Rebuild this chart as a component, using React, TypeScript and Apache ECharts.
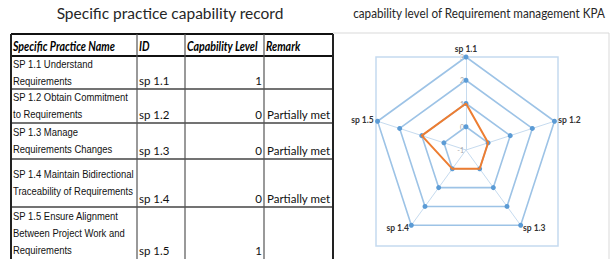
import React, { useEffect, useRef } from "react";
import * as echarts from "echarts";

const tableTitle = "Specific practice capability record";
const chartTitle = "capability level of Requirement management KPA";
const columnHeaders = ["Specific Practice Name", "ID", "Capability Level", "Remark"];
const practiceNames = [
  "SP 1.1 Understand\nRequirements",
  "SP 1.2 Obtain Commitment\nto Requirements",
  "SP 1.3 Manage\nRequirements Changes",
  "SP 1.4 Maintain Bidirectional\nTraceability of Requirements",
  "SP 1.5 Ensure Alignment\nBetween Project Work and\nRequirements",
];
const practiceIds = ["sp 1.1", "sp 1.2", "sp 1.3", "sp 1.4", "sp 1.5"];
const capabilityLevels = [1, 0, 0, 0, 1];
const remarks = ["", "Partially met", "Partially met", "Partially met", ""];
const axisMin = -1;
const axisMax = 3;
const gridRings = [
  [0, 0, 0, 0, 0],
  [1, 1, 1, 1, 1],
  [2, 2, 2, 2, 2],
  [3, 3, 3, 3, 3],
];

// layout
const COL_X = [11, 137, 185, 264, 333];
const ROW_Y = [34, 56, 89, 123, 159, 207, 262];
// ECharts lays radar axes counter-clockwise; reorder so sp 1.2 sits on the right
const RADAR_ORDER = [0, 4, 3, 2, 1];

export default function App() {
  const ref = useRef<HTMLDivElement>(null);
  useEffect(() => {
    if (!ref.current) return;
    const chart = echarts.init(ref.current, undefined, { renderer: "svg" });

    const graphics: any[] = [];
    // titles
    graphics.push({
      type: "text", x: 170, y: 13,
      style: { text: tableTitle, font: "15.5px Lato", fill: "#262626", textAlign: "center", textVerticalAlign: "middle" },
    });
    graphics.push({
      type: "text", x: 479, y: 13, scaleX: 0.9,
      style: { text: chartTitle, font: "13px Lato", fill: "#262626", textAlign: "center", textVerticalAlign: "middle" },
    });
    // chart area frame and plot area
    graphics.push({
      type: "rect", z: 0,
      shape: { x: 333, y: 33, width: 276, height: 280 },
      style: { fill: "none", stroke: "#d9d9d9", lineWidth: 1 },
    });
    graphics.push({
      type: "rect", z: 0,
      shape: { x: 376, y: 57, width: 182, height: 189 },
      style: { fill: "none", stroke: "#c5daf0", lineWidth: 1.5 },
    });
    // table grid
    ROW_Y.forEach((y, i) => {
      graphics.push({
        type: "line",
        shape: { x1: COL_X[0], y1: y, x2: COL_X[COL_X.length - 1], y2: y },
        style: { stroke: i <= 1 ? "#111" : "#444", lineWidth: i <= 1 ? 2 : 1.5 },
      });
    });
    COL_X.forEach((x, i) => {
      graphics.push({
        type: "line",
        shape: { x1: x, y1: ROW_Y[0], x2: x, y2: ROW_Y[ROW_Y.length - 1] },
        style: { stroke: i === 0 || i === COL_X.length - 1 ? "#222" : "#555", lineWidth: i === 0 || i === COL_X.length - 1 ? 2 : 1.2 },
      });
    });
    // header
    columnHeaders.forEach((h, i) => {
      graphics.push({
        type: "text", x: COL_X[i] + 2, y: (ROW_Y[0] + ROW_Y[1]) / 2 + 1, scaleX: 0.85,
        style: { text: h, font: "italic bold 12.5px Lato", fill: "#000", textAlign: "left", textVerticalAlign: "middle" },
      });
    });
    // rows
    practiceNames.forEach((name, r) => {
      const top = ROW_Y[r + 1];
      const bottom = ROW_Y[r + 2] > 259 ? 259 : ROW_Y[r + 2];
      graphics.push({
        type: "text", x: COL_X[0] + 2, y: (top + bottom) / 2, scaleX: 0.86,
        style: { text: name, font: "11px 'Liberation Sans'", lineHeight: 17, fill: "#111", textAlign: "left", textVerticalAlign: "middle" },
      });
      graphics.push({
        type: "text", x: COL_X[1] + 2, y: bottom - 3,
        style: { text: practiceIds[r], font: "11.5px Lato", fill: "#111", textAlign: "left", textVerticalAlign: "bottom" },
      });
      graphics.push({
        type: "text", x: COL_X[3] - 2, y: bottom - 3,
        style: { text: String(capabilityLevels[r]), font: "11.5px Lato", fill: "#111", textAlign: "right", textVerticalAlign: "bottom" },
      });
      if (remarks[r]) {
        graphics.push({
          type: "text", x: COL_X[3] + 3, y: bottom - 3,
          style: { text: remarks[r], font: "11.5px Lato", fill: "#111", textAlign: "left", textVerticalAlign: "bottom" },
        });
      }
    });

    const indicator = RADAR_ORDER.map((i, k) => {
      const ind: any = { name: practiceIds[i], min: axisMin, max: axisMax };
      if (k === 0) {
        ind.axisLabel = { show: true, color: "#a6a6a6", fontSize: 7, fontFamily: "Lato", margin: 2 };
      }
      return ind;
    });

    chart.setOption({
      animation: false,
      graphic: { elements: graphics },
      radar: {
        center: [466, 150],
        radius: 93,
        startAngle: 90,
        splitNumber: 4,
        shape: "polygon",
        indicator,
        nameGap: 4,
        axisName: { color: "#333", fontSize: 8.5, fontWeight: "bold", fontFamily: "Lato" },
        axisLine: { lineStyle: { color: "#c6dbef", width: 1 } },
        splitLine: { show: false },
        splitArea: { show: false },
        axisLabel: { show: false },
        axisTick: { show: false },
      },
      series: [
        {
          type: "radar",
          z: 2,
          symbol: "circle",
          symbolSize: 5,
          lineStyle: { color: "#9dc3e6", width: 1.6 },
          itemStyle: { color: "#5b9bd5" },
          data: gridRings.map((ring) => ({ value: RADAR_ORDER.map((i) => ring[i]) })),
        },
        {
          type: "radar",
          z: 3,
          symbol: "none",
          lineStyle: { color: "#ed7d31", width: 2 },
          data: [{ value: RADAR_ORDER.map((i) => capabilityLevels[i]) }],
        },
      ],
    });
    return () => chart.dispose();
  }, []);
  return (
    <div
      ref={ref}
      style={{ position: "fixed", left: 0, top: 0, width: 612, height: 259, background: "#fff" }}
    />
  );
}
